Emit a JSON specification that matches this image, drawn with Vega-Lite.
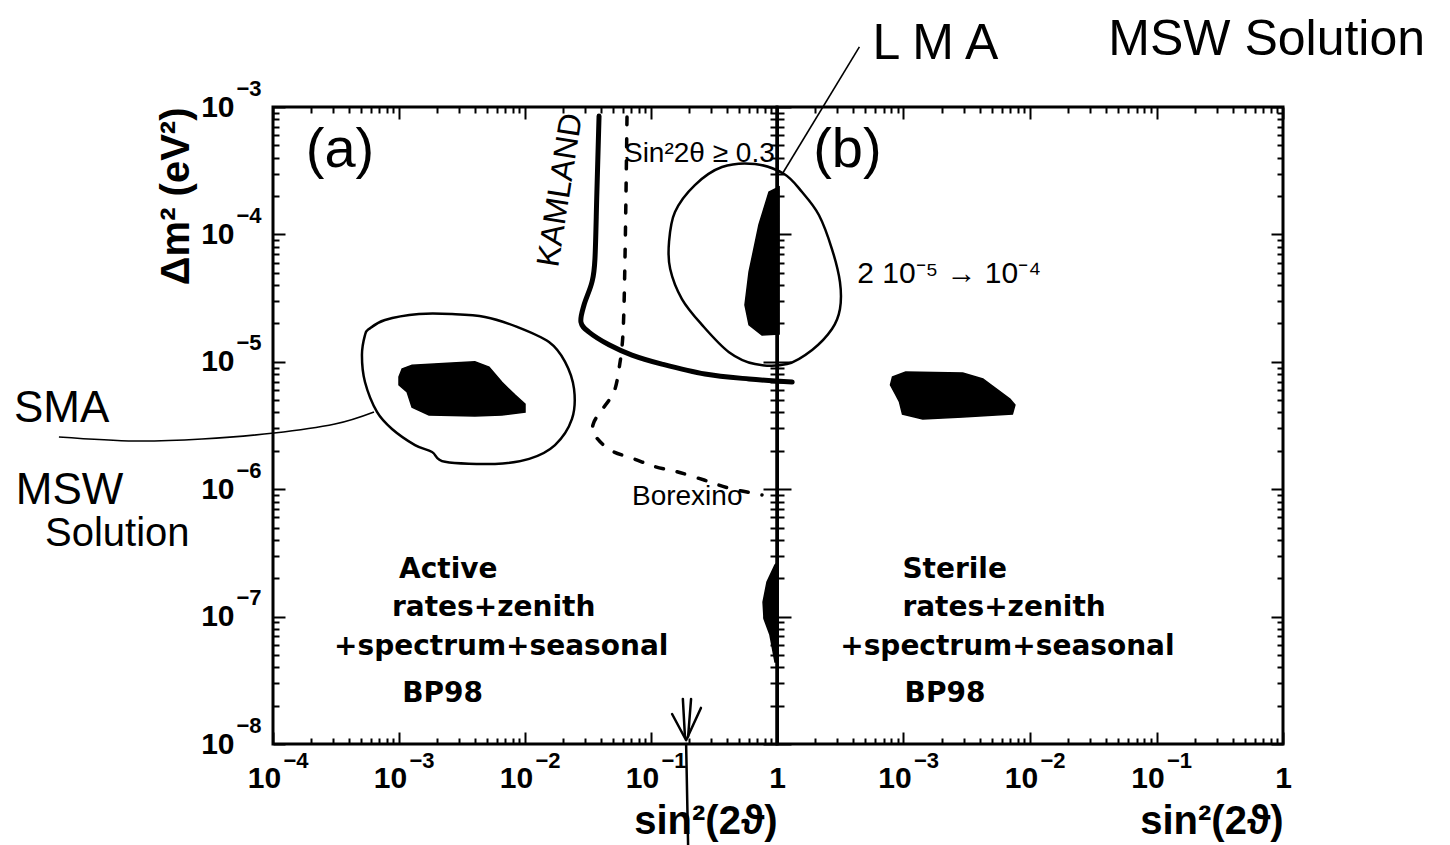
{
  "$schema": "https://vega.github.io/schema/vega-lite/v6.json",
  "background": "white",
  "padding": {"left": 12, "top": 13, "right": 0, "bottom": 0},
  "autosize": {"type": "pad"},
  "bounds": "flush",
  "spacing": 0,
  "config": {
    "view": {"stroke": "black", "strokeWidth": 3},
    "axis": {
      "grid": false, "domain": false,
      "tickColor": "black", "tickWidth": 2,
      "labelFont": "Liberation Sans", "labelFontWeight": "bold", "labelFontSize": 30, "labelColor": "black",
      "titleFont": "Liberation Sans", "titleFontWeight": "bold", "titleFontSize": 40, "titleColor": "black",
      "labelOverlap": false, "labelFlush": false
    }
  },
  "datasets": {
    "a_shapes": [
      {"s": "sma_fill", "i": 0, "x": 0.00106, "y": 8.8e-6},
      {"s": "sma_fill", "i": 1, "x": 0.00127, "y": 9.4e-6},
      {"s": "sma_fill", "i": 2, "x": 0.00263, "y": 9.8e-6},
      {"s": "sma_fill", "i": 3, "x": 0.0040, "y": 1.0e-5},
      {"s": "sma_fill", "i": 4, "x": 0.00518, "y": 9.1e-6},
      {"s": "sma_fill", "i": 5, "x": 0.00656, "y": 6.9e-6},
      {"s": "sma_fill", "i": 6, "x": 0.0083, "y": 5.5e-6},
      {"s": "sma_fill", "i": 7, "x": 0.0100, "y": 4.66e-6},
      {"s": "sma_fill", "i": 8, "x": 0.0100, "y": 4.03e-6},
      {"s": "sma_fill", "i": 9, "x": 0.00656, "y": 3.82e-6},
      {"s": "sma_fill", "i": 10, "x": 0.0040, "y": 3.75e-6},
      {"s": "sma_fill", "i": 11, "x": 0.00173, "y": 3.82e-6},
      {"s": "sma_fill", "i": 12, "x": 0.00127, "y": 4.41e-6},
      {"s": "sma_fill", "i": 13, "x": 0.00116, "y": 5.8e-6},
      {"s": "sma_fill", "i": 14, "x": 0.0010, "y": 6.58e-6},
      {"s": "sma_fill", "i": 15, "x": 0.0010, "y": 7.6e-6},

      {"s": "lma_fill", "i": 0, "x": 1.04, "y": 2.36e-4},
      {"s": "lma_fill", "i": 1, "x": 0.864, "y": 2.15e-4},
      {"s": "lma_fill", "i": 2, "x": 0.719, "y": 1.19e-4},
      {"s": "lma_fill", "i": 3, "x": 0.60, "y": 5.07e-5},
      {"s": "lma_fill", "i": 4, "x": 0.557, "y": 2.79e-5},
      {"s": "lma_fill", "i": 5, "x": 0.60, "y": 1.95e-5},
      {"s": "lma_fill", "i": 6, "x": 0.76, "y": 1.62e-5},
      {"s": "lma_fill", "i": 7, "x": 1.04, "y": 1.65e-5},

      {"s": "low_fill", "i": 0, "x": 1.02, "y": 2.68e-7},
      {"s": "low_fill", "i": 1, "x": 0.964, "y": 2.54e-7},
      {"s": "low_fill", "i": 2, "x": 0.833, "y": 1.87e-7},
      {"s": "low_fill", "i": 3, "x": 0.775, "y": 1.3e-7},
      {"s": "low_fill", "i": 4, "x": 0.789, "y": 9.6e-8},
      {"s": "low_fill", "i": 5, "x": 0.879, "y": 7.2e-8},
      {"s": "low_fill", "i": 6, "x": 0.964, "y": 4.4e-8},
      {"s": "low_fill", "i": 7, "x": 1.02, "y": 4.4e-8},

      {"s": "sma_ring", "i": 0, "x": 0.000578, "y": 1.81e-5},
      {"s": "sma_ring", "i": 1, "x": 0.000774, "y": 2.13e-5},
      {"s": "sma_ring", "i": 2, "x": 0.00144, "y": 2.37e-5},
      {"s": "sma_ring", "i": 3, "x": 0.00263, "y": 2.37e-5},
      {"s": "sma_ring", "i": 4, "x": 0.00481, "y": 2.25e-5},
      {"s": "sma_ring", "i": 5, "x": 0.00865, "y": 1.88e-5},
      {"s": "sma_ring", "i": 6, "x": 0.0155, "y": 1.43e-5},
      {"s": "sma_ring", "i": 7, "x": 0.0208, "y": 1.0e-5},
      {"s": "sma_ring", "i": 8, "x": 0.0245, "y": 6.12e-6},
      {"s": "sma_ring", "i": 9, "x": 0.0236, "y": 3.56e-6},
      {"s": "sma_ring", "i": 10, "x": 0.0173, "y": 2.22e-6},
      {"s": "sma_ring", "i": 11, "x": 0.0108, "y": 1.73e-6},
      {"s": "sma_ring", "i": 12, "x": 0.00578, "y": 1.58e-6},
      {"s": "sma_ring", "i": 13, "x": 0.00232, "y": 1.64e-6},
      {"s": "sma_ring", "i": 14, "x": 0.00183, "y": 1.96e-6},
      {"s": "sma_ring", "i": 15, "x": 0.00134, "y": 2.22e-6},
      {"s": "sma_ring", "i": 16, "x": 0.00088, "y": 2.97e-6},
      {"s": "sma_ring", "i": 17, "x": 0.000669, "y": 4.04e-6},
      {"s": "sma_ring", "i": 18, "x": 0.000537, "y": 6.94e-6},
      {"s": "sma_ring", "i": 19, "x": 0.000508, "y": 1.13e-5},
      {"s": "sma_ring", "i": 20, "x": 0.000537, "y": 1.62e-5},

      {"s": "lma_ring", "i": 0, "x": 1.14, "y": 2.98e-4},
      {"s": "lma_ring", "i": 1, "x": 1.58, "y": 2.15e-4},
      {"s": "lma_ring", "i": 2, "x": 2.15, "y": 1.42e-4},
      {"s": "lma_ring", "i": 3, "x": 2.73, "y": 7.68e-5},
      {"s": "lma_ring", "i": 4, "x": 3.16, "y": 4.23e-5},
      {"s": "lma_ring", "i": 5, "x": 3.16, "y": 2.6e-5},
      {"s": "lma_ring", "i": 6, "x": 2.73, "y": 1.81e-5},
      {"s": "lma_ring", "i": 7, "x": 1.9, "y": 1.24e-5},
      {"s": "lma_ring", "i": 8, "x": 1.2, "y": 9.6e-6},
      {"s": "lma_ring", "i": 9, "x": 0.669, "y": 9.6e-6},
      {"s": "lma_ring", "i": 10, "x": 0.416, "y": 1.19e-5},
      {"s": "lma_ring", "i": 11, "x": 0.254, "y": 1.95e-5},
      {"s": "lma_ring", "i": 12, "x": 0.176, "y": 3.11e-5},
      {"s": "lma_ring", "i": 13, "x": 0.142, "y": 5.35e-5},
      {"s": "lma_ring", "i": 14, "x": 0.139, "y": 8.71e-5},
      {"s": "lma_ring", "i": 15, "x": 0.155, "y": 1.5e-4},
      {"s": "lma_ring", "i": 16, "x": 0.223, "y": 2.44e-4},
      {"s": "lma_ring", "i": 17, "x": 0.366, "y": 3.38e-4},
      {"s": "lma_ring", "i": 18, "x": 0.669, "y": 3.57e-4},

      {"s": "sma_lead", "i": 0, "x": 2.0e-6, "y": 2.57e-6},
      {"s": "sma_lead", "i": 1, "x": 8.03e-6, "y": 2.39e-6},
      {"s": "sma_lead", "i": 2, "x": 2.73e-5, "y": 2.48e-6},
      {"s": "sma_lead", "i": 3, "x": 1.02e-4, "y": 2.76e-6},
      {"s": "sma_lead", "i": 4, "x": 3.1e-4, "y": 3.25e-6},
      {"s": "sma_lead", "i": 5, "x": 6.33e-4, "y": 4.04e-6},

      {"s": "kamland", "i": 0, "x": 0.0387, "y": 8.5e-4},
      {"s": "kamland", "i": 1, "x": 0.0372, "y": 2.15e-4},
      {"s": "kamland", "i": 2, "x": 0.0359, "y": 6.41e-5},
      {"s": "kamland", "i": 3, "x": 0.0340, "y": 4.23e-5},
      {"s": "kamland", "i": 4, "x": 0.0294, "y": 2.79e-5},
      {"s": "kamland", "i": 5, "x": 0.0278, "y": 2.05e-5},
      {"s": "kamland", "i": 6, "x": 0.0322, "y": 1.71e-5},
      {"s": "kamland", "i": 7, "x": 0.0464, "y": 1.36e-5},
      {"s": "kamland", "i": 8, "x": 0.0706, "y": 1.13e-5},
      {"s": "kamland", "i": 9, "x": 0.122, "y": 9.6e-6},
      {"s": "kamland", "i": 10, "x": 0.268, "y": 8.02e-6},
      {"s": "kamland", "i": 11, "x": 0.60, "y": 7.33e-6},
      {"s": "kamland", "i": 12, "x": 1.32, "y": 6.93e-6},

      {"s": "borexino", "i": 0, "x": 0.0645, "y": 8.35e-4},
      {"s": "borexino", "i": 1, "x": 0.0623, "y": 7.28e-5},
      {"s": "borexino", "i": 2, "x": 0.0600, "y": 1.71e-5},
      {"s": "borexino", "i": 3, "x": 0.0557, "y": 8.77e-6},
      {"s": "borexino", "i": 4, "x": 0.0508, "y": 5.8e-6},
      {"s": "borexino", "i": 5, "x": 0.0424, "y": 4.42e-6},
      {"s": "borexino", "i": 6, "x": 0.0353, "y": 3.37e-6},
      {"s": "borexino", "i": 7, "x": 0.0353, "y": 2.71e-6},
      {"s": "borexino", "i": 8, "x": 0.0473, "y": 2.03e-6},
      {"s": "borexino", "i": 9, "x": 0.0733, "y": 1.73e-6},
      {"s": "borexino", "i": 10, "x": 0.108, "y": 1.5e-6},
      {"s": "borexino", "i": 11, "x": 0.161, "y": 1.37e-6},
      {"s": "borexino", "i": 12, "x": 0.264, "y": 1.18e-6},
      {"s": "borexino", "i": 13, "x": 0.416, "y": 1.02e-6},
      {"s": "borexino", "i": 14, "x": 0.76, "y": 9.0e-7},

      {"s": "arrow_stem1", "i": 0, "x": 0.179, "y": 2.26e-8},
      {"s": "arrow_stem1", "i": 1, "x": 0.186, "y": 1.14e-8},
      {"s": "arrow_stem2", "i": 0, "x": 0.208, "y": 2.26e-8},
      {"s": "arrow_stem2", "i": 1, "x": 0.197, "y": 1.14e-8},
      {"s": "arrow_head", "i": 0, "x": 0.147, "y": 1.72e-8},
      {"s": "arrow_head", "i": 1, "x": 0.190, "y": 1.07e-8},
      {"s": "arrow_head", "i": 2, "x": 0.249, "y": 1.92e-8},
      {"s": "arrow_tail", "i": 0, "x": 0.190, "y": 1.0e-8},
      {"s": "arrow_tail", "i": 1, "x": 0.197, "y": 1.6e-9}
    ],
    "b_shapes": [
      {"s": "b_fill", "i": 0, "x": 0.000818, "y": 7.6e-6},
      {"s": "b_fill", "i": 1, "x": 0.00104, "y": 8.32e-6},
      {"s": "b_fill", "i": 2, "x": 0.00294, "y": 8.17e-6},
      {"s": "b_fill", "i": 3, "x": 0.00424, "y": 7.33e-6},
      {"s": "b_fill", "i": 4, "x": 0.00694, "y": 5.11e-6},
      {"s": "b_fill", "i": 5, "x": 0.0076, "y": 4.58e-6},
      {"s": "b_fill", "i": 6, "x": 0.00726, "y": 3.89e-6},
      {"s": "b_fill", "i": 7, "x": 0.00294, "y": 3.69e-6},
      {"s": "b_fill", "i": 8, "x": 0.00142, "y": 3.56e-6},
      {"s": "b_fill", "i": 9, "x": 0.000982, "y": 3.89e-6},
      {"s": "b_fill", "i": 10, "x": 0.00093, "y": 4.84e-6},
      {"s": "b_fill", "i": 11, "x": 0.000862, "y": 5.6e-6},
      {"s": "b_fill", "i": 12, "x": 0.000789, "y": 6.58e-6},
      {"s": "lma_lead", "i": 0, "x": 0.00011, "y": 2.98e-4},
      {"s": "lma_lead", "i": 1, "x": 0.000448, "y": 2.96e-3}
    ],
    "a_text": [
      {"t": "(a)", "g": "tag", "x": 0.00034, "y": 4.6e-4},
      {"t": "KAMLAND", "g": "kam", "x": 0.019, "y": 2.23e-4},
      {"t": "Sin²2θ ≥ 0.3", "g": "note", "x": 0.061, "y": 4.28e-4},
      {"t": "Borexino", "g": "note", "x": 0.0706, "y": 8.7e-7},
      {"t": "SMA", "g": "hand", "x": 8.8e-7, "y": 4.26e-6},
      {"t": "MSW", "g": "hand", "x": 9.1e-7, "y": 9.7e-7},
      {"t": "Solution", "g": "hand2", "x": 1.55e-6, "y": 4.45e-7},
      {"t": "Active", "g": "bold", "x": 0.0010, "y": 2.32e-7},
      {"t": "rates+zenith", "g": "bold", "x": 0.00088, "y": 1.17e-7},
      {"t": "+spectrum+seasonal", "g": "bold", "x": 0.000305, "y": 5.77e-8},
      {"t": "BP98", "g": "bold", "x": 0.00106, "y": 2.47e-8}
    ],
    "b_text": [
      {"t": "(b)", "g": "tag", "x": 0.00036, "y": 4.6e-4},
      {"t": "2 10⁻⁵ → 10⁻⁴", "g": "note", "x": 0.000431, "y": 4.89e-5},
      {"t": "L M A", "g": "top", "x": 0.000568, "y": 3.12e-3},
      {"t": "MSW Solution", "g": "top", "x": 0.0416, "y": 3.36e-3},
      {"t": "Sterile", "g": "bold", "x": 0.00098, "y": 2.32e-7},
      {"t": "rates+zenith", "g": "bold", "x": 0.00098, "y": 1.17e-7},
      {"t": "+spectrum+seasonal", "g": "bold", "x": 0.000316, "y": 5.77e-8},
      {"t": "BP98", "g": "bold", "x": 0.00102, "y": 2.47e-8}
    ]
  },
  "hconcat": [
    {
      "width": 504,
      "height": 637,
      "resolve": {"axis": {"x": "independent", "y": "independent"}},
      "layer": [
        {
          "data": {"name": "a_shapes"},
          "transform": [{"filter": "indexof(['sma_fill','lma_fill','low_fill'], datum.s) >= 0"}],
          "mark": {"type": "line", "interpolate": "linear-closed", "fill": "black", "stroke": "black", "strokeWidth": 1.5},
          "encoding": {
            "x": {"field": "x", "type": "quantitative", "scale": {"type": "log", "domain": [0.0001, 1], "nice": false},
              "axis": {"orient": "bottom", "title": "sin²(2ϑ)", "titleAnchor": "end", "titlePadding": 2, "labelPadding": 31,
                "values": [0.0001,0.0002,0.0003,0.0004,0.0005,0.0006,0.0007,0.0008,0.0009,0.001,0.002,0.003,0.004,0.005,0.006,0.007,0.008,0.009,0.01,0.02,0.03,0.04,0.05,0.06,0.07,0.08,0.09,0.1,0.2,0.3,0.4,0.5,0.6,0.7,0.8,0.9,1],
                "labelExpr": "abs(log(datum.value)/LN10 - round(log(datum.value)/LN10)) > 0.01 ? '' : (round(log(datum.value)/LN10) == 0 ? '1' : '10')",
                "labelOffset": {"condition": {"test": "datum.value == 1", "value": 0}, "value": -9},
                "tickSize": {"condition": {"test": "abs(log(datum.value)/LN10 - round(log(datum.value)/LN10)) < 0.01", "value": -12}, "value": -6}}},
            "y": {"field": "y", "type": "quantitative", "scale": {"type": "log", "domain": [1e-8, 0.001], "nice": false},
              "axis": {"orient": "left", "title": "Δm² (eV²)", "titleAnchor": "end", "titlePadding": 4, "labelPadding": 51,
                "values": [1e-8,2e-8,3e-8,4e-8,5e-8,6e-8,7e-8,8e-8,9e-8,1e-7,2e-7,3e-7,4e-7,5e-7,6e-7,7e-7,8e-7,9e-7,1e-6,2e-6,3e-6,4e-6,5e-6,6e-6,7e-6,8e-6,9e-6,1e-5,2e-5,3e-5,4e-5,5e-5,6e-5,7e-5,8e-5,9e-5,1e-4,2e-4,3e-4,4e-4,5e-4,6e-4,7e-4,8e-4,9e-4,1e-3],
                "labelExpr": "abs(log(datum.value)/LN10 - round(log(datum.value)/LN10)) > 0.01 ? '' : '10'",
                "tickSize": {"condition": {"test": "abs(log(datum.value)/LN10 - round(log(datum.value)/LN10)) < 0.01", "value": -12}, "value": -6}}},
            "detail": {"field": "s"},
            "order": {"field": "i", "type": "quantitative"}
          }
        },
        {
          "data": {"name": "a_shapes"},
          "transform": [{"filter": "indexof(['sma_ring','lma_ring'], datum.s) >= 0"}],
          "mark": {"type": "line", "interpolate": "cardinal-closed", "color": "black", "strokeWidth": 2.5},
          "encoding": {
            "x": {"field": "x", "type": "quantitative", "scale": {"type": "log", "domain": [0.0001, 1], "nice": false},
              "axis": {"orient": "top", "labels": false, "title": null,
                "values": [0.0001,0.0002,0.0003,0.0004,0.0005,0.0006,0.0007,0.0008,0.0009,0.001,0.002,0.003,0.004,0.005,0.006,0.007,0.008,0.009,0.01,0.02,0.03,0.04,0.05,0.06,0.07,0.08,0.09,0.1,0.2,0.3,0.4,0.5,0.6,0.7,0.8,0.9,1],
                "tickSize": {"condition": {"test": "abs(log(datum.value)/LN10 - round(log(datum.value)/LN10)) < 0.01", "value": -12}, "value": -6}}},
            "y": {"field": "y", "type": "quantitative", "scale": {"type": "log", "domain": [1e-8, 0.001], "nice": false},
              "axis": {"orient": "right", "labels": false, "title": null, "domain": true, "domainColor": "black", "domainWidth": 3,
                "values": [1e-8,2e-8,3e-8,4e-8,5e-8,6e-8,7e-8,8e-8,9e-8,1e-7,2e-7,3e-7,4e-7,5e-7,6e-7,7e-7,8e-7,9e-7,1e-6,2e-6,3e-6,4e-6,5e-6,6e-6,7e-6,8e-6,9e-6,1e-5,2e-5,3e-5,4e-5,5e-5,6e-5,7e-5,8e-5,9e-5,1e-4,2e-4,3e-4,4e-4,5e-4,6e-4,7e-4,8e-4,9e-4,1e-3],
                "tickSize": {"condition": {"test": "abs(log(datum.value)/LN10 - round(log(datum.value)/LN10)) < 0.01", "value": -14}, "value": -7}}},
            "detail": {"field": "s"},
            "order": {"field": "i", "type": "quantitative"}
          }
        },
        {
          "data": {"name": "a_shapes"},
          "transform": [{"filter": "datum.s == 'sma_lead'"}],
          "mark": {"type": "line", "interpolate": "cardinal", "color": "black", "strokeWidth": 1.6},
          "encoding": {
            "x": {"field": "x", "type": "quantitative", "scale": {"type": "log", "domain": [0.0001, 1], "nice": false},
              "axis": {"orient": "bottom", "title": null, "ticks": false, "labelFontSize": 22, "labelAlign": "left", "labelBaseline": "top", "labelPadding": 6, "labelOffset": 10,
                "values": [0.0001, 0.001, 0.01, 0.1],
                "labelExpr": "'−' + (-round(log(datum.value)/LN10))"}},
            "y": {"field": "y", "type": "quantitative", "scale": {"type": "log", "domain": [1e-8, 0.001], "nice": false},
              "axis": {"orient": "left", "title": null, "ticks": false, "labelFontSize": 22, "labelAlign": "left", "labelBaseline": "middle", "labelPadding": 37, "labelOffset": -19,
                "values": [1e-8, 1e-7, 1e-6, 1e-5, 1e-4, 1e-3],
                "labelExpr": "'−' + (-round(log(datum.value)/LN10))"}},
            "order": {"field": "i", "type": "quantitative"}
          }
        },
        {
          "data": {"name": "a_shapes"},
          "transform": [{"filter": "indexof(['arrow_stem1','arrow_stem2','arrow_head','arrow_tail'], datum.s) >= 0"}],
          "mark": {"type": "line", "color": "black", "strokeWidth": 2.5, "strokeCap": "round", "strokeJoin": "round"},
          "encoding": {
            "x": {"field": "x", "type": "quantitative", "scale": {"type": "log", "domain": [0.0001, 1], "nice": false}, "axis": null},
            "y": {"field": "y", "type": "quantitative", "scale": {"type": "log", "domain": [1e-8, 0.001], "nice": false}, "axis": null},
            "detail": {"field": "s"},
            "order": {"field": "i", "type": "quantitative"}
          }
        },
        {
          "data": {"name": "a_shapes"},
          "transform": [{"filter": "datum.s == 'kamland'"}],
          "mark": {"type": "line", "interpolate": "cardinal", "color": "black", "strokeWidth": 5, "strokeCap": "round"},
          "encoding": {
            "x": {"field": "x", "type": "quantitative", "scale": {"type": "log", "domain": [0.0001, 1], "nice": false}, "axis": null},
            "y": {"field": "y", "type": "quantitative", "scale": {"type": "log", "domain": [1e-8, 0.001], "nice": false}, "axis": null},
            "order": {"field": "i", "type": "quantitative"}
          }
        },
        {
          "data": {"name": "a_shapes"},
          "transform": [{"filter": "datum.s == 'borexino'"}],
          "mark": {"type": "line", "interpolate": "cardinal", "color": "black", "strokeWidth": 3.5, "strokeDash": [8, 14], "strokeCap": "round"},
          "encoding": {
            "x": {"field": "x", "type": "quantitative", "scale": {"type": "log", "domain": [0.0001, 1], "nice": false}, "axis": null},
            "y": {"field": "y", "type": "quantitative", "scale": {"type": "log", "domain": [1e-8, 0.001], "nice": false}, "axis": null},
            "order": {"field": "i", "type": "quantitative"}
          }
        },
        {
          "data": {"name": "a_text"},
          "transform": [{"filter": "datum.g == 'tag'"}],
          "mark": {"type": "text", "font": "Liberation Sans", "fontSize": 56, "align": "center", "baseline": "middle", "color": "black"},
          "encoding": {
            "x": {"field": "x", "type": "quantitative", "scale": {"type": "log", "domain": [0.0001, 1], "nice": false}, "axis": null},
            "y": {"field": "y", "type": "quantitative", "scale": {"type": "log", "domain": [1e-8, 0.001], "nice": false}, "axis": null},
            "text": {"field": "t"}
          }
        },
        {
          "data": {"name": "a_text"},
          "transform": [{"filter": "datum.g == 'kam'"}],
          "mark": {"type": "text", "font": "Liberation Sans", "fontSize": 32, "angle": 279, "align": "center", "baseline": "middle", "color": "black"},
          "encoding": {
            "x": {"field": "x", "type": "quantitative", "scale": {"type": "log", "domain": [0.0001, 1], "nice": false}, "axis": null},
            "y": {"field": "y", "type": "quantitative", "scale": {"type": "log", "domain": [1e-8, 0.001], "nice": false}, "axis": null},
            "text": {"field": "t"}
          }
        },
        {
          "data": {"name": "a_text"},
          "transform": [{"filter": "datum.g == 'note'"}],
          "mark": {"type": "text", "font": "Liberation Sans", "fontSize": 28, "align": "left", "baseline": "middle", "color": "black"},
          "encoding": {
            "x": {"field": "x", "type": "quantitative", "scale": {"type": "log", "domain": [0.0001, 1], "nice": false}, "axis": null},
            "y": {"field": "y", "type": "quantitative", "scale": {"type": "log", "domain": [1e-8, 0.001], "nice": false}, "axis": null},
            "text": {"field": "t"}
          }
        },
        {
          "data": {"name": "a_text"},
          "transform": [{"filter": "datum.g == 'hand'"}],
          "mark": {"type": "text", "font": "Liberation Sans", "fontSize": 44, "align": "left", "baseline": "middle", "color": "black"},
          "encoding": {
            "x": {"field": "x", "type": "quantitative", "scale": {"type": "log", "domain": [0.0001, 1], "nice": false}, "axis": null},
            "y": {"field": "y", "type": "quantitative", "scale": {"type": "log", "domain": [1e-8, 0.001], "nice": false}, "axis": null},
            "text": {"field": "t"}
          }
        },
        {
          "data": {"name": "a_text"},
          "transform": [{"filter": "datum.g == 'hand2'"}],
          "mark": {"type": "text", "font": "Liberation Sans", "fontSize": 40, "align": "left", "baseline": "middle", "color": "black"},
          "encoding": {
            "x": {"field": "x", "type": "quantitative", "scale": {"type": "log", "domain": [0.0001, 1], "nice": false}, "axis": null},
            "y": {"field": "y", "type": "quantitative", "scale": {"type": "log", "domain": [1e-8, 0.001], "nice": false}, "axis": null},
            "text": {"field": "t"}
          }
        },
        {
          "data": {"name": "a_text"},
          "transform": [{"filter": "datum.g == 'bold'"}],
          "mark": {"type": "text", "font": "DejaVu Sans", "fontWeight": "bold", "fontSize": 28, "align": "left", "baseline": "middle", "color": "black"},
          "encoding": {
            "x": {"field": "x", "type": "quantitative", "scale": {"type": "log", "domain": [0.0001, 1], "nice": false}, "axis": null},
            "y": {"field": "y", "type": "quantitative", "scale": {"type": "log", "domain": [1e-8, 0.001], "nice": false}, "axis": null},
            "text": {"field": "t"}
          }
        }
      ]
    },
    {
      "width": 506,
      "height": 637,
      "resolve": {"axis": {"x": "independent", "y": "independent"}},
      "layer": [
        {
          "data": {"name": "b_shapes"},
          "transform": [{"filter": "datum.s == 'b_fill'"}],
          "mark": {"type": "line", "interpolate": "linear-closed", "fill": "black", "stroke": "black", "strokeWidth": 1.5},
          "encoding": {
            "x": {"field": "x", "type": "quantitative", "scale": {"type": "log", "domain": [0.0001, 1], "nice": false},
              "axis": {"orient": "bottom", "title": "sin²(2ϑ)", "titleAnchor": "end", "titlePadding": 2, "labelPadding": 31,
                "values": [0.0001,0.0002,0.0003,0.0004,0.0005,0.0006,0.0007,0.0008,0.0009,0.001,0.002,0.003,0.004,0.005,0.006,0.007,0.008,0.009,0.01,0.02,0.03,0.04,0.05,0.06,0.07,0.08,0.09,0.1,0.2,0.3,0.4,0.5,0.6,0.7,0.8,0.9,1],
                "labelExpr": "abs(log(datum.value)/LN10 - round(log(datum.value)/LN10)) > 0.01 || round(log(datum.value)/LN10) == -4 ? '' : (round(log(datum.value)/LN10) == 0 ? '1' : '10')",
                "labelOffset": {"condition": {"test": "datum.value == 1", "value": 0}, "value": -9},
                "tickSize": {"condition": {"test": "abs(log(datum.value)/LN10 - round(log(datum.value)/LN10)) < 0.01", "value": -12}, "value": -6}}},
            "y": {"field": "y", "type": "quantitative", "scale": {"type": "log", "domain": [1e-8, 0.001], "nice": false},
              "axis": {"orient": "left", "labels": false, "title": null, "domain": true, "domainColor": "black", "domainWidth": 3,
                "values": [1e-8,2e-8,3e-8,4e-8,5e-8,6e-8,7e-8,8e-8,9e-8,1e-7,2e-7,3e-7,4e-7,5e-7,6e-7,7e-7,8e-7,9e-7,1e-6,2e-6,3e-6,4e-6,5e-6,6e-6,7e-6,8e-6,9e-6,1e-5,2e-5,3e-5,4e-5,5e-5,6e-5,7e-5,8e-5,9e-5,1e-4,2e-4,3e-4,4e-4,5e-4,6e-4,7e-4,8e-4,9e-4,1e-3],
                "tickSize": {"condition": {"test": "abs(log(datum.value)/LN10 - round(log(datum.value)/LN10)) < 0.01", "value": -14}, "value": -7}}},
            "order": {"field": "i", "type": "quantitative"}
          }
        },
        {
          "data": {"name": "b_shapes"},
          "transform": [{"filter": "datum.s == 'lma_lead'"}],
          "mark": {"type": "line", "color": "black", "strokeWidth": 1.6},
          "encoding": {
            "x": {"field": "x", "type": "quantitative", "scale": {"type": "log", "domain": [0.0001, 1], "nice": false},
              "axis": {"orient": "top", "labels": false, "title": null,
                "values": [0.0001,0.0002,0.0003,0.0004,0.0005,0.0006,0.0007,0.0008,0.0009,0.001,0.002,0.003,0.004,0.005,0.006,0.007,0.008,0.009,0.01,0.02,0.03,0.04,0.05,0.06,0.07,0.08,0.09,0.1,0.2,0.3,0.4,0.5,0.6,0.7,0.8,0.9,1],
                "tickSize": {"condition": {"test": "abs(log(datum.value)/LN10 - round(log(datum.value)/LN10)) < 0.01", "value": -12}, "value": -6}}},
            "y": {"field": "y", "type": "quantitative", "scale": {"type": "log", "domain": [1e-8, 0.001], "nice": false},
              "axis": {"orient": "right", "labels": false, "title": null,
                "values": [1e-8,2e-8,3e-8,4e-8,5e-8,6e-8,7e-8,8e-8,9e-8,1e-7,2e-7,3e-7,4e-7,5e-7,6e-7,7e-7,8e-7,9e-7,1e-6,2e-6,3e-6,4e-6,5e-6,6e-6,7e-6,8e-6,9e-6,1e-5,2e-5,3e-5,4e-5,5e-5,6e-5,7e-5,8e-5,9e-5,1e-4,2e-4,3e-4,4e-4,5e-4,6e-4,7e-4,8e-4,9e-4,1e-3],
                "tickSize": {"condition": {"test": "abs(log(datum.value)/LN10 - round(log(datum.value)/LN10)) < 0.01", "value": -12}, "value": -6}}},
            "order": {"field": "i", "type": "quantitative"}
          }
        },
        {
          "data": {"name": "b_text"},
          "transform": [{"filter": "datum.g == 'tag'"}],
          "mark": {"type": "text", "font": "Liberation Sans", "fontSize": 56, "align": "center", "baseline": "middle", "color": "black"},
          "encoding": {
            "x": {"field": "x", "type": "quantitative", "scale": {"type": "log", "domain": [0.0001, 1], "nice": false},
              "axis": {"orient": "bottom", "title": null, "ticks": false, "labelFontSize": 22, "labelAlign": "left", "labelBaseline": "top", "labelPadding": 6, "labelOffset": 10,
                "values": [0.001, 0.01, 0.1],
                "labelExpr": "'−' + (-round(log(datum.value)/LN10))"}},
            "y": {"field": "y", "type": "quantitative", "scale": {"type": "log", "domain": [1e-8, 0.001], "nice": false}, "axis": null},
            "text": {"field": "t"}
          }
        },
        {
          "data": {"name": "b_text"},
          "transform": [{"filter": "datum.g == 'note'"}],
          "mark": {"type": "text", "font": "Liberation Sans", "fontSize": 30, "align": "left", "baseline": "middle", "color": "black"},
          "encoding": {
            "x": {"field": "x", "type": "quantitative", "scale": {"type": "log", "domain": [0.0001, 1], "nice": false}, "axis": null},
            "y": {"field": "y", "type": "quantitative", "scale": {"type": "log", "domain": [1e-8, 0.001], "nice": false}, "axis": null},
            "text": {"field": "t"}
          }
        },
        {
          "data": {"name": "b_text"},
          "transform": [{"filter": "datum.g == 'top'"}],
          "mark": {"type": "text", "font": "Liberation Sans", "fontSize": 50, "align": "left", "baseline": "middle", "color": "black"},
          "encoding": {
            "x": {"field": "x", "type": "quantitative", "scale": {"type": "log", "domain": [0.0001, 1], "nice": false}, "axis": null},
            "y": {"field": "y", "type": "quantitative", "scale": {"type": "log", "domain": [1e-8, 0.001], "nice": false}, "axis": null},
            "text": {"field": "t"}
          }
        },
        {
          "data": {"name": "b_text"},
          "transform": [{"filter": "datum.g == 'bold'"}],
          "mark": {"type": "text", "font": "DejaVu Sans", "fontWeight": "bold", "fontSize": 28, "align": "left", "baseline": "middle", "color": "black"},
          "encoding": {
            "x": {"field": "x", "type": "quantitative", "scale": {"type": "log", "domain": [0.0001, 1], "nice": false}, "axis": null},
            "y": {"field": "y", "type": "quantitative", "scale": {"type": "log", "domain": [1e-8, 0.001], "nice": false}, "axis": null},
            "text": {"field": "t"}
          }
        }
      ]
    }
  ]
}
